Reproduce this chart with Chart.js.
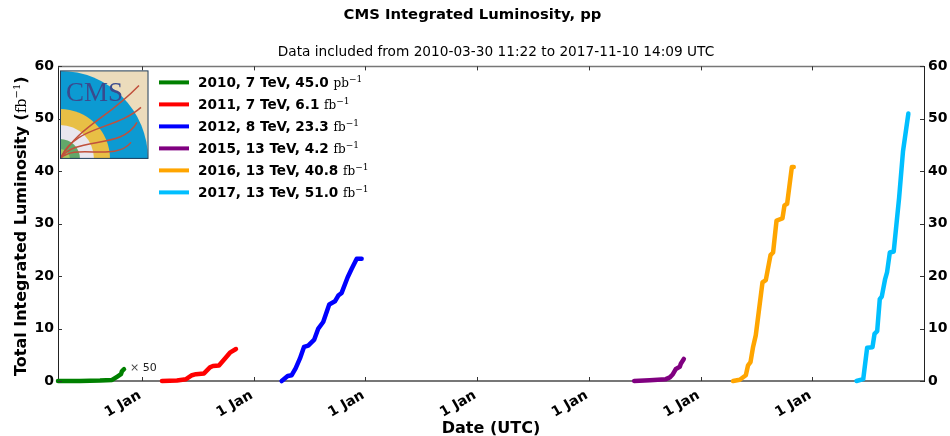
<!DOCTYPE html>
<html><head><meta charset="utf-8">
<style>html,body{margin:0;padding:0;background:#fff}canvas{display:block}</style>
<script src="https://cdn.jsdelivr.net/npm/chart.js@4"></script>
</head><body><canvas id="c" width="950" height="436"></canvas>
<script>
const SANS='"DejaVu Sans"', SERIF='"DejaVu Serif"';
const titleText='CMS Integrated Luminosity, pp';
const subtitleText='Data included from 2010-03-30 11:22 to 2017-11-10 14:09 UTC';
const yTickValues=[0,10,20,30,40,50,60];
const xTickYears=[2011,2012,2013,2014,2015,2016,2017];
const xTickLabel='1 Jan';

const years2010=[2010.248,2010.445,2010.624,2010.732,2010.776,2010.812,2010.821,2010.839];
const lumi2010=[0,0.02,0.08,0.2,0.8,1.3,1.9,2.25];
const years2011=[2011.179,2011.313,2011.394,2011.447,2011.483,2011.555,2011.608,2011.635,2011.689,2011.743,2011.787,2011.841];
const lumi2011=[0,0.1,0.35,1.1,1.3,1.45,2.6,2.85,2.95,4.3,5.4,6.1];
const years2012=[2012.250,2012.304,2012.340,2012.375,2012.414,2012.450,2012.488,2012.542,2012.578,2012.622,2012.676,2012.727,2012.757,2012.787,2012.841,2012.877,2012.922,2012.966];
const lumi2012=[0,0.95,1.1,2.4,4.3,6.5,6.75,7.9,10,11.25,14.6,15.2,16.3,16.8,19.8,21.4,23.3,23.3];
const years2015=[2015.405,2015.545,2015.689,2015.725,2015.752,2015.779,2015.814,2015.823,2015.850];
const lumi2015=[0,0.15,0.35,0.7,1.3,2.3,2.7,3.3,4.2];
const years2016=[2016.291,2016.351,2016.405,2016.425,2016.447,2016.470,2016.494,2016.554,2016.584,2016.626,2016.649,2016.680,2016.733,2016.751,2016.775,2016.817,2016.834];
const lumi2016=[0,0.25,1.1,3,3.6,6.5,8.7,18.8,19.25,24,24.5,30.6,31,33.5,33.8,40.8,40.8];
const years2017=[2017.396,2017.456,2017.491,2017.539,2017.557,2017.581,2017.604,2017.622,2017.652,2017.669,2017.694,2017.729,2017.777,2017.812,2017.860];
const lumi2017=[0,0.35,6.35,6.45,9,9.5,15.6,16.1,19.45,20.7,24.5,24.7,34.9,43.8,51];

const seriesNames=['2010, 7 TeV, 45.0 ','2011, 7 TeV, 6.1 ','2012, 8 TeV, 23.3 ','2015, 13 TeV, 4.2 ','2016, 13 TeV, 40.8 ','2017, 13 TeV, 51.0 '];
const seriesUnits=['pb','fb','fb','fb','fb','fb'];
const seriesColors=['#008000','#ff0000','#0000ff','#800080','#ffa500','#00bfff'];
const seriesYears=[years2010,years2011,years2012,years2015,years2016,years2017];
const seriesLumi=[lumi2010,lumi2011,lumi2012,lumi2015,lumi2016,lumi2017];
const xMin=2010.248,xMax=2018;

function rich(ctx,x,y,parts){
  ctx.textAlign='left';ctx.textBaseline='alphabetic';
  for(const p of parts){
    ctx.font=p.font;ctx.fillStyle=p.color||'#000';
    ctx.fillText(p.t,x,y-(p.up||0));
    x+=ctx.measureText(p.t).width;
  }
  return x;
}
function unitParts(u){return [{t:u,font:`12px ${SERIF}`},{t:'\u22121',font:`9px ${SERIF}`,up:5}];}

const decorations={
  id:'decorations',
  afterLayout(chart){
    for(const b of chart.boxes){
      if(b.options&&b.options.text===titleText){b.right-=5;}
      if(b.options&&b.options.text===subtitleText){b.left+=42;}
    }
  },
  afterDraw(chart){
    const ctx=chart.ctx,a=chart.chartArea,sx=chart.scales.x,sy=chart.scales.y,sy2=chart.scales.y2;
    ctx.save();
    ctx.strokeStyle='#777';ctx.lineWidth=1.5;
    ctx.beginPath();ctx.moveTo(a.left,a.top);ctx.lineTo(a.right,a.top);ctx.stroke();
    ctx.strokeStyle='#333';ctx.lineWidth=1;
    ctx.beginPath();
    sx.ticks.forEach((t,i)=>{const p=Math.round(sx.getPixelForTick(i))+.5;
      ctx.moveTo(p,a.bottom);ctx.lineTo(p,a.bottom-4);ctx.moveTo(p,a.top);ctx.lineTo(p,a.top+4);});
    sy.ticks.forEach((t,i)=>{const p=Math.round(sy.getPixelForTick(i))+.5;
      ctx.moveTo(a.left,p);ctx.lineTo(a.left+4,p);});
    sy2.ticks.forEach((t,i)=>{const p=Math.round(sy2.getPixelForTick(i))+.5;
      ctx.moveTo(a.right,p);ctx.lineTo(a.right-4,p);});
    ctx.stroke();
    // y axis title, read upward from the lower plot edge
    ctx.save();ctx.translate(20,376);ctx.rotate(-Math.PI/2);
    const b=`bold 16px ${SANS}`;
    rich(ctx,0,6,[{t:'Total Integrated Luminosity (',font:b},{t:'fb',font:`14.5px ${SERIF}`},{t:'\u22121',font:`10px ${SERIF}`,up:6},{t:')',font:b}]);
    ctx.restore();
    // x50 note
    rich(ctx,sx.getPixelForValue(years2010[7])+6,sy.getPixelForValue(lumi2010[7])+2,[{t:'\u00d7',font:`11px ${SERIF}`,color:'#444'},{t:' 50',font:`11px ${SANS}`,color:'#222'}]);
    // legend
    const lx=a.left+101,ly=a.top+16;
    chart.data.datasets.forEach((d,i)=>{
      const y=ly+i*22;
      ctx.strokeStyle=d.borderColor;ctx.lineWidth=4;
      ctx.beginPath();ctx.moveTo(lx,y);ctx.lineTo(lx+30,y);ctx.stroke();
      rich(ctx,lx+39,y+5,[{t:d.label,font:`bold 13.6px ${SANS}`},...unitParts(seriesUnits[i])]);
    });
    // CMS logo
    const L=a.left+2,T=a.top+4,S=88.5,Bm=T+S;
    ctx.save();ctx.beginPath();ctx.rect(L,T,S,S);ctx.clip();
    ctx.fillStyle='#ecdcbc';ctx.fillRect(L,T,S,S);
    const disc=(r,c)=>{ctx.fillStyle=c;ctx.beginPath();ctx.arc(L,Bm,r,0,Math.PI*2);ctx.fill();};
    disc(88,'#0c9ad2');disc(50,'#e8bf45');disc(34,'#e9e6ee');disc(20,'#62a76a');disc(10,'#a6c95e');
    ctx.font=`27px "Liberation Serif"`;ctx.fillStyle='#3a4a8e';ctx.textAlign='left';ctx.textBaseline='alphabetic';
    ctx.fillText('CMS',L+6,T+31);
    ctx.strokeStyle='#c0503c';ctx.lineWidth=1.5;
    const tracks=[[20,55,45,50,79,15],[15,55,55,60,81,37],[15,65,62,80,77,52],[15,72,55,92,71,72]];
    for(const t of tracks){ctx.beginPath();ctx.moveTo(L,Bm);ctx.bezierCurveTo(L+t[0],T+t[1],L+t[2],T+t[3],L+t[4],T+t[5]);ctx.stroke();}
    ctx.restore();
    ctx.strokeStyle='#23405e';ctx.lineWidth=1;ctx.strokeRect(L+.5,T+.5,S-1,S-1);
    ctx.restore();
  }
};

const tickFont={family:SANS,size:14,weight:'bold'};
const noGrid={display:false,drawTicks:false,tickLength:0};
new Chart(document.getElementById('c'),{
  type:'line',
  data:{datasets:seriesNames.map((n,i)=>({
    label:n,
    data:seriesYears[i].map((x,j)=>({x,y:seriesLumi[i][j]})),
    borderColor:seriesColors[i],backgroundColor:seriesColors[i],
    borderWidth:4.5,pointRadius:0,tension:0,fill:false,borderJoinStyle:'round',borderCapStyle:'round',yAxisID:'y',clip:false
  }))},
  options:{
    responsive:false,animation:false,
    layout:{padding:0},
    plugins:{
      legend:{display:false},tooltip:{enabled:false},
      title:{display:true,text:titleText,color:'#000',font:{family:SANS,size:14.8,weight:'bold'},padding:{top:6.5,bottom:20}},
      subtitle:{display:true,text:subtitleText,color:'#000',font:{family:SANS,size:13.7,weight:'normal'},padding:{top:0,bottom:5.7}}
    },
    scales:{
      x:{type:'linear',position:'bottom',min:xMin,max:xMax,
        grid:noGrid,border:{color:'#777',width:2},
        afterBuildTicks(s){s.ticks=xTickYears.map(v=>({value:v}));},
        afterFit(s){s.height=55;},
        ticks:{autoSkip:false,minRotation:30,maxRotation:30,padding:6,labelOffset:-2,color:'#000',font:tickFont,callback:()=>xTickLabel},
        title:{display:true,text:'Date (UTC)',color:'#000',font:{family:SANS,size:16,weight:'bold'},padding:{top:0,bottom:-2}}
      },
      y:{type:'linear',position:'left',min:0,max:60,
        grid:noGrid,border:{color:'#222',width:1},
        afterBuildTicks(s){s.ticks=yTickValues.map(v=>({value:v}));},
        afterFit(s){s.width=58;},
        ticks:{padding:4,color:'#000',font:tickFont}
      },
      y2:{type:'linear',position:'right',min:0,max:60,
        grid:noGrid,border:{color:'#222',width:1},
        afterBuildTicks(s){s.ticks=yTickValues.map(v=>({value:v}));},
        afterFit(s){s.width=26;},
        ticks:{padding:4,color:'#000',font:tickFont}
      }
    }
  },
  plugins:[decorations]
});
</script></body></html>
